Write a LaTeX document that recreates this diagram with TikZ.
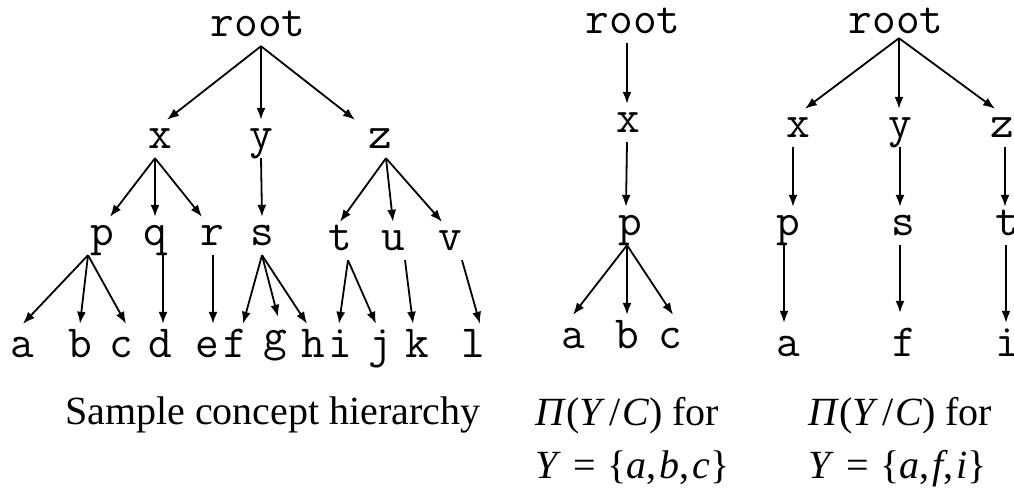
\documentclass[tikz,border=0pt]{standalone}
\usepackage{fontspec}
\setmainfont{Liberation Serif}
\usepackage{tikz}
\usetikzlibrary{arrows.meta}
\tikzset{
  treearrow/.style={-{Latex[length=12pt,width=9pt]}, line width=1.8pt, draw=black},
  conceptlabel/.style={font=\fontsize{46}{52}\selectfont\ttfamily, inner sep=0pt,
    anchor=base, text height=28pt, text depth=10pt},
  leaflabel/.style={conceptlabel, text height=33pt},
  captiontext/.style={font=\fontsize{40}{46}\selectfont, inner sep=0pt, anchor=base west}
}

\begin{document}
\begin{tikzpicture}[x=1pt, y=-1pt]
\clip (0,0) rectangle (1014,490);

% sample concept hierarchy
\node[conceptlabel] (lroot) at (258,36) {root};
\node[conceptlabel] (lx) at (160,148) {x};
\node[conceptlabel] (ly) at (261,148) {y};
\node[conceptlabel] (lz) at (380,148) {z};
\node[conceptlabel] (lp) at (102,245) {p};
\node[conceptlabel] (lq) at (155,245) {q};
\node[conceptlabel] (lr) at (212,245) {r};
\node[conceptlabel] (ls) at (262,245) {s};
\node[conceptlabel] (lt) at (340,250) {t};
\node[conceptlabel] (lu) at (393,250) {u};
\node[conceptlabel] (lv) at (450,250) {v};
\node[leaflabel] (la) at (22,357) {a};
\node[leaflabel] (lb) at (80,357) {b};
\node[leaflabel] (lc) at (121,357) {c};
\node[leaflabel] (ld) at (160,357) {d};
\node[leaflabel] (le) at (207,357) {e};
\node[leaflabel] (lf) at (235,357) {f};
\node[leaflabel] (lg) at (275,350) {g};
\node[leaflabel] (lh) at (313,357) {h};
\node[leaflabel] (li) at (340,357) {i};
\node[leaflabel] (lj) at (380,357) {j};
\node[leaflabel] (lk) at (417,357) {k};
\node[leaflabel] (ll) at (473,357) {l};

\draw[treearrow] ([xshift=3pt]lroot.south) -- ([xshift=7pt]lx.north);
\draw[treearrow] ([xshift=3pt]lroot.south) -- (ly.north);
\draw[treearrow] ([xshift=3pt]lroot.south) -- ([xshift=-25pt]lz.north);
\draw[treearrow] ([xshift=-5pt]lx.south) -- ([xshift=8pt]lp.north);
\draw[treearrow] ([xshift=-5pt]lx.south) -- (lq.north);
\draw[treearrow] ([xshift=-5pt]lx.south) -- ([xshift=-10pt]lr.north);
\draw[treearrow] (ly.south) -- (ls.north);
\draw[treearrow] ([xshift=6pt]lz.south) -- (lt.north);
\draw[treearrow] ([xshift=6pt]lz.south) -- (lu.north);
\draw[treearrow] ([xshift=6pt]lz.south) -- ([xshift=-8pt]lv.north);
\draw[treearrow] ([xshift=-14pt]lp.south) -- ([xshift=1pt]la.north);
\draw[treearrow] ([xshift=-14pt]lp.south) -- (lb.north);
\draw[treearrow] ([xshift=-14pt]lp.south) -- ([xshift=5pt]lc.north);
\draw[treearrow] ([xshift=8pt]lq.south) -- ([xshift=3pt]ld.north);
\draw[treearrow] ([xshift=1pt]lr.south) -- ([xshift=6pt]le.north);
\draw[treearrow] (ls.south) -- ([xshift=8pt]lf.north);
\draw[treearrow] (ls.south) -- ([xshift=3pt]lg.north);
\draw[treearrow] (ls.south) -- ([xshift=-6pt]lh.north);
\draw[treearrow] ([xshift=8pt]lt.south) -- ([xshift=-1pt]li.north);
\draw[treearrow] ([xshift=8pt]lt.south) -- ([xshift=-4pt]lj.north);
\draw[treearrow] ([xshift=12pt]lu.south) -- ([xshift=-4pt]lk.north);
\draw[treearrow] ([xshift=12pt]lv.south) -- ([xshift=7pt]ll.north);

\node[captiontext] (lcaption) at (65,424) {Sample concept hierarchy};

% projection for {a,b,c}
\node[conceptlabel] (mroot) at (633,33) {root};
\node[conceptlabel] (mx) at (628,132) {x};
\node[conceptlabel] (mp) at (630,235) {p};
\node[leaflabel] (ma) at (573,348) {a};
\node[leaflabel] (mb) at (627,348) {b};
\node[leaflabel] (mc) at (670,348) {c};

\draw[treearrow] ([xshift=-6pt]mroot.south) -- ([xshift=-1pt]mx.north);
\draw[treearrow] ([xshift=-1pt]mx.south) -- ([xshift=-4pt]mp.north);
\draw[treearrow] ([xshift=-3pt]mp.south) -- (ma.north);
\draw[treearrow] ([xshift=-3pt]mp.south) -- (mb.north);
\draw[treearrow] ([xshift=-3pt]mp.south) -- ([xshift=3pt]mc.north);

\node[captiontext] (mcaption) at (535,425) {\textit{Π}(\textit{Y}\kern4pt/\kern2pt\textit{C}) for};
\node[captiontext] (mset) at (535,478) {\textit{Y}\kern2pt{} = \kern2pt\{\textit{a},\kern3pt\textit{b},\kern3pt\textit{c}\}};

% projection for {a,f,i}
\node[conceptlabel] (rroot) at (896,33) {root};
\node[conceptlabel] (rx) at (798,137) {x};
\node[conceptlabel] (ry) at (900,137) {y};
\node[conceptlabel] (rz) at (1002,137) {z};
\node[conceptlabel] (rp) at (788,235) {p};
\node[conceptlabel] (rs) at (903,235) {s};
\node[conceptlabel] (rt) at (1007,235) {t};
\node[leaflabel] (ra) at (788,356) {a};
\node[leaflabel] (rf) at (904,356) {f};
\node[leaflabel] (ri) at (1007,356) {i};

\draw[treearrow] ([xshift=3pt,yshift=5pt]rroot.south) -- ([xshift=7pt]rx.north);
\draw[treearrow] ([xshift=3pt,yshift=5pt]rroot.south) -- ([xshift=-1pt]ry.north);
\draw[treearrow] ([xshift=3pt,yshift=5pt]rroot.south) -- ([xshift=-7pt]rz.north);
\draw[treearrow] ([xshift=-5pt]rx.south) -- ([xshift=5pt]rp.north);
\draw[treearrow] (ry.south) -- ([xshift=-3pt]rs.north);
\draw[treearrow] ([xshift=3pt]rz.south) -- ([xshift=-2pt]rt.north);
\draw[treearrow] ([xshift=-4pt]rp.south) -- ([xshift=-4pt]ra.north);
\draw[treearrow] ([xshift=-3pt]rs.south) -- ([xshift=-4pt,yshift=10pt]rf.north);
\draw[treearrow] ([xshift=-1pt]rt.south) -- ([xshift=-1pt]ri.north);

\node[captiontext] (rcaption) at (808,425) {\textit{Π}(\textit{Y}\kern4pt/\kern2pt\textit{C}) for};
\node[captiontext] (rset) at (808,478) {\textit{Y}\kern2pt{} = \kern2pt\{\textit{a},\kern3pt\textit{f},\kern3pt\textit{i}\}};
\end{tikzpicture}
\end{document}
